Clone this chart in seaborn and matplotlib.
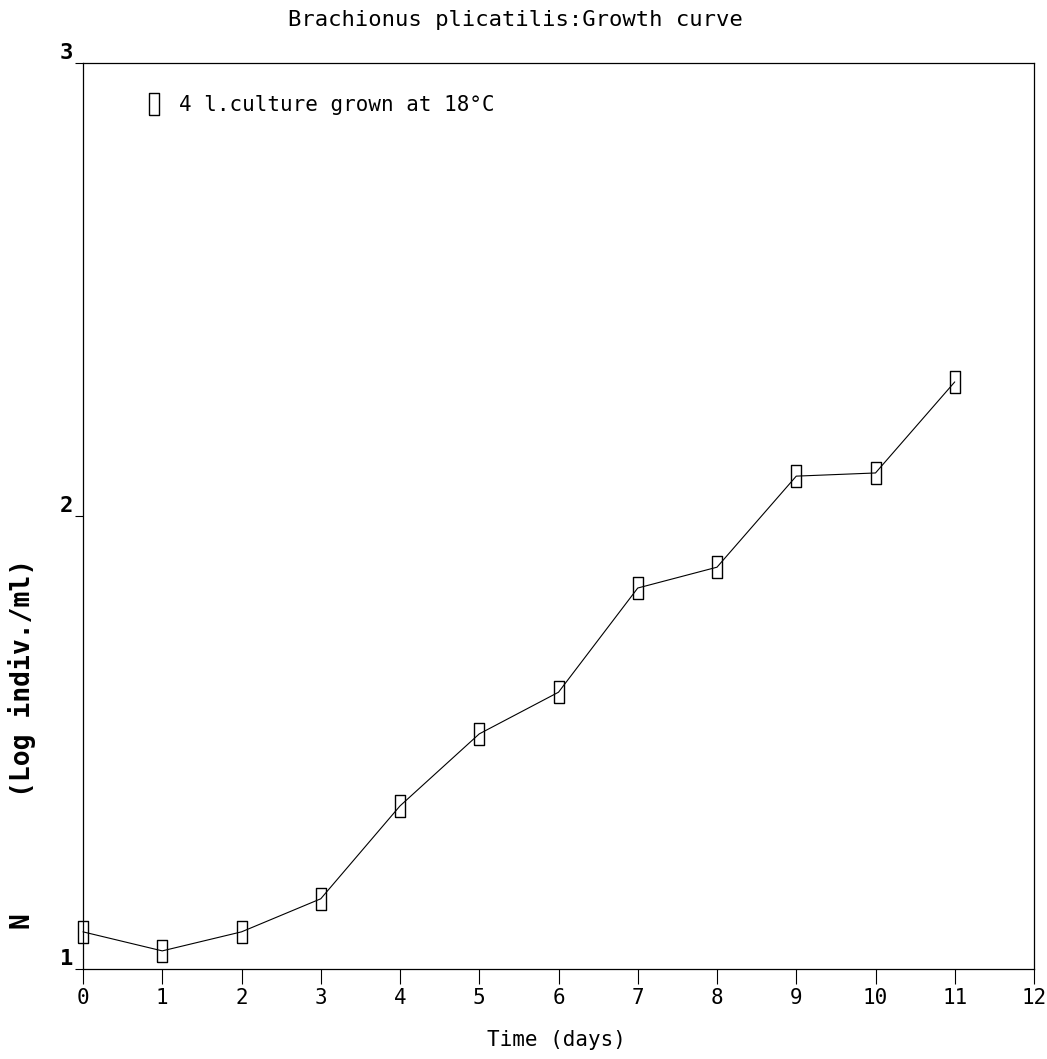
import seaborn as sns
import matplotlib.pyplot as plt
from matplotlib.lines import Line2D

# dane
dni = [0, 1, 2, 3, 4, 5, 6, 7, 8, 9, 10, 11]
log_n = [1.082, 1.040, 1.082, 1.155, 1.360, 1.519, 1.611, 1.841, 1.887, 2.088, 2.095, 2.296]
x_ticki = list(range(0, 13))
y_ticki = [1, 2, 3]

tytul = "Brachionus plicatilis:Growth curve"
legenda = "4 l.culture grown at 18°C"

sns.set_style("white")
plt.rcParams["font.family"] = ["DejaVu Sans Mono", "DejaVu Sans"]
plt.rcParams["text.color"] = "black"
plt.rcParams["axes.labelcolor"] = "black"

# waski prostokat jako znacznik
prostokat = [(-0.24, -0.5), (0.24, -0.5), (0.24, 0.5), (-0.24, 0.5), (-0.24, -0.5)]

fig = plt.figure(figsize=(10.47, 10.59), dpi=100)
ax = fig.add_axes([83 / 1047, 90 / 1059, 951 / 1047, 906 / 1059])

sns.lineplot(x=dni, y=log_n, ax=ax, color="black", lw=0.8,
             marker=prostokat, markersize=15.5, markerfacecolor="none",
             markeredgecolor="black", mew=1.0, clip_on=False, zorder=5)

ax.set_xlim(0, 12)
ax.set_ylim(1, 3)
ax.set_xticks(x_ticki)
ax.set_xticklabels([str(t) for t in x_ticki])
ax.set_yticks(y_ticki)
ax.set_yticklabels([str(t) for t in y_ticki], fontweight="bold")
for lab in ax.get_yticklabels():
    lab.set_verticalalignment("bottom")

ax.tick_params(axis="x", direction="out", length=11, width=0.8, pad=3,
               labelsize=15, colors="black", bottom=True)
ax.tick_params(axis="y", direction="out", length=6, width=0.8, pad=1,
               labelsize=16, colors="black", left=True)
for s in ax.spines.values():
    s.set_color("black")
    s.set_linewidth(0.9)

uchwyt = Line2D([], [], ls="none", marker=prostokat, markersize=15.5,
                markerfacecolor="none", markeredgecolor="black", mew=1.0)
ax.legend([uchwyt], [legenda], loc="center left",
          bbox_to_anchor=((144 - 83) / 951, (969 - 105) / 906),
          frameon=False, handlelength=1.0, handletextpad=0.7,
          borderpad=0, borderaxespad=0, fontsize=15, labelcolor="black")

fig.text(515 / 1047, 1 - 20 / 1059, tytul, ha="center", va="center", fontsize=16)
fig.text(556 / 1047, 1 - 1040 / 1059, "Time (days)", ha="center", va="center", fontsize=15)
fig.text(22 / 1047, 1 - 678 / 1059, "(Log indiv./ml)", rotation=90,
         ha="center", va="center", fontsize=19, fontweight="bold")
fig.text(22 / 1047, 1 - 920 / 1059, "N", rotation=90,
         ha="center", va="center", fontsize=19, fontweight="bold")

fig.savefig("out.png", dpi=100)
